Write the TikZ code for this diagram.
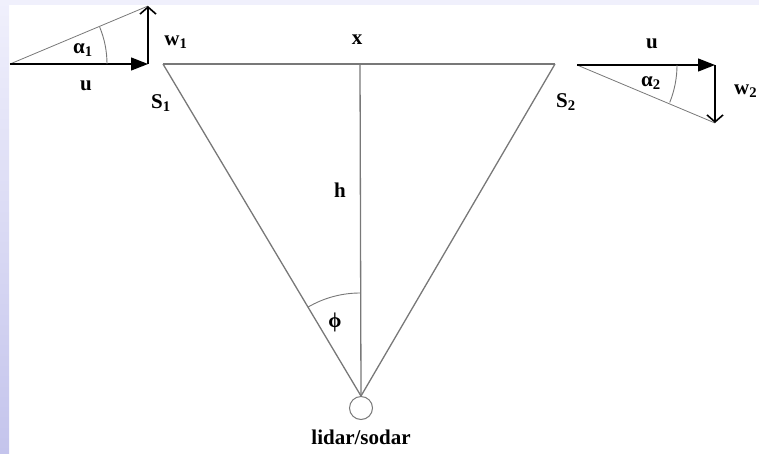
\documentclass[tikz,border=0pt]{standalone}
\usepackage{fontspec}
\setmainfont{Liberation Serif}
\usetikzlibrary{arrows.meta}
\definecolor{lavlight}{RGB}{240,240,252}
\definecolor{lavdark}{RGB}{196,196,236}
\definecolor{geogray}{RGB}{120,120,120}
\def\yTop{64}
\def\xApex{360}
\tikzset{
  geoline/.style={geogray, line width=1.3pt},
  hypline/.style={geogray, line width=0.8pt},
  anglearc/.style={geogray, line width=0.9pt},
  vecarrow/.style={-{Triangle[length=17pt,width=13pt]}, line width=1.3pt},
  vecbarb/.style={-{Straight Barb[length=7pt,width=16pt,line width=1.6pt]}, line width=1.4pt},
  lbl/.style={font=\fontsize{21}{24}\selectfont\bfseries, inner sep=0pt},
}
\begin{document}
\begin{tikzpicture}[x=1pt,y=-1pt]
  % page and slide border
  \useasboundingbox (0,0) rectangle (759,453);
  \fill[lavlight] (0,0) rectangle (759,5);
  \shade[top color=lavlight, bottom color=lavdark] (0,0) rectangle (9,453);

  % sounding geometry
  \coordinate (s1) at (163,\yTop);
  \coordinate (s2) at (555,\yTop);
  \coordinate (top) at (\xApex,\yTop);
  \coordinate (apex) at (\xApex,396);
  \node[draw=geogray, line width=1pt, circle, minimum size=23pt, inner sep=0pt] (lidar) at (361,408) {};
  \node[lbl] (lidarlbl) at (361,437) {lidar/sodar};
  \draw[geoline] (s1) -- (s2);
  \draw[geoline] (top) -- (lidar.north);
  \draw[geoline] (s1) -- (lidar.north);
  \draw[geoline] (s2) -- (lidar.north);
  \draw[anglearc] (apex) ++(-120.4:103) arc[start angle=-120.4, end angle=-90, radius=103];
  \node[lbl] (xlbl) at (357,40) {x};
  \node[lbl] (hlbl) at (340,190) {h};
  \node[lbl] (philbl) at (335,322) {ϕ};
  \node[lbl] (s1lbl) at (161,103) {S\textsubscript{1}};
  \node[lbl] (s2lbl) at (566,102) {S\textsubscript{2}};

  % wind triangle at S1
  \coordinate (ul0) at (10,64);
  \coordinate (ul1) at (148,64);
  \coordinate (wl1) at (148,6);
  \draw[hypline] (ul0) -- (wl1);
  \draw[vecarrow] (ul0) -- (ul1);
  \draw[vecbarb] (ul1) -- (wl1);
  \draw[anglearc] (ul0) ++(0:97) arc[start angle=0, end angle=-22.4, radius=97];
  \node[lbl] (ullbl) at (86,86) {u};
  \node[lbl] (al1lbl) at (83,50) {α\textsubscript{1}};
  \node[lbl] (wl1lbl) at (176,42) {w\textsubscript{1}};

  % wind triangle at S2
  \coordinate (ur0) at (577,65);
  \coordinate (ur1) at (715,65);
  \coordinate (wr1) at (715,123);
  \draw[hypline] (ur0) -- (wr1);
  \draw[vecarrow] (ur0) -- (ur1);
  \draw[vecbarb] (ur1) -- (wr1);
  \draw[anglearc] (ur0) ++(0:100) arc[start angle=0, end angle=22, radius=100];
  \node[lbl] (urlbl) at (652,44) {u};
  \node[lbl] (al2lbl) at (651,83) {α\textsubscript{2}};
  \node[lbl, anchor=west] (wr1lbl) at (734,91) {w\textsubscript{2}};
\end{tikzpicture}
\end{document}
